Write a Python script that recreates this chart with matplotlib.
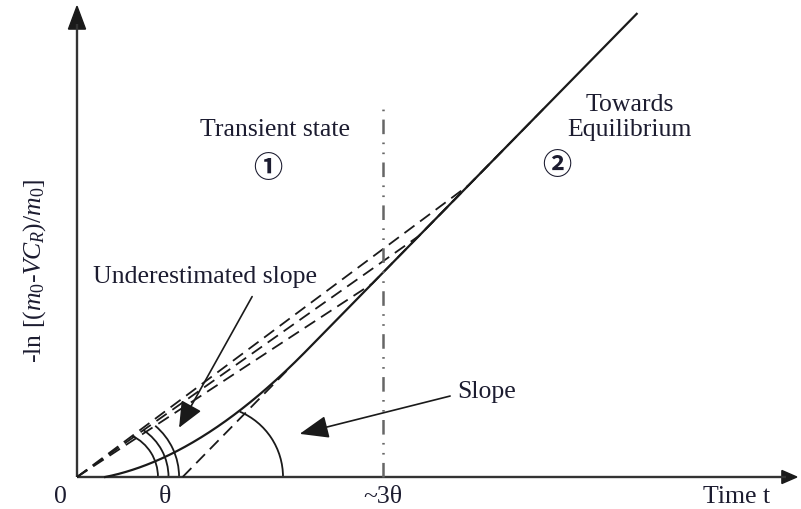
import numpy as np
import matplotlib
matplotlib.use("Agg")
import matplotlib.pyplot as plt
from matplotlib.patches import Arc, Polygon

# ---------------- data (time measured in units of theta) ----------------
theta = 1.0
three_theta = 3.48              # position of the "~3θ" boundary
x_axis_len = 8.18
y_axis_len = 5.35
asym_slope = 1.02               # slope of the equilibrium asymptote
asym_x0 = 1.20                  # x-intercept of the asymptote
curve_start = 0.32              # where the measured curve leaves the t-axis
curve_init_slope = 0.20
curve_join = 2.61               # where the curve merges with the asymptote
line_end = 6.36
under_slopes = [0.745, 0.705, 0.655]      # underestimated slopes (through origin)
under_tail_end = [5.30, 4.90, 4.40]
small_arc_center = 0.40
small_arc_radii = [0.52, 0.64, 0.76]
slope_arc_center = 1.534
slope_arc_radius = 0.807
tick_pos = [-0.19, theta, three_theta]
tick_labels = ["0", "θ", "~3θ"]

# ---------------- figure ----------------
PX = 88.0   # pixels per unit
W, H = 801, 510
ox, oy = 77, 478
fig = plt.figure(figsize=(W / 100, H / 100), dpi=100)
ax = fig.add_axes([0, 0, 1, 1])
ax.set_xlim(-ox / PX, (W - ox) / PX)
ax.set_ylim(-(H - oy) / PX, oy / PX)
ax.axis("off")
plt.rcParams["lines.scale_dashes"] = False
plt.rcParams["mathtext.fontset"] = "custom"
plt.rcParams["mathtext.rm"] = "Liberation Serif"
plt.rcParams["mathtext.it"] = "Liberation Serif:italic"

ink = "#1a1a1a"
txt = "#1c1c30"
serif = ["Liberation Serif", "Noto Sans CJK JP", "DejaVu Sans"]
fs = 18.5
dash = (0, (9.0, 5.0))

# axes with arrows
ax.plot([0, 0], [0, y_axis_len - 0.2], color="#333333", lw=1.7, solid_capstyle="butt")
ax.plot([0, x_axis_len - 0.12], [0, 0], color="#333333", lw=1.7, solid_capstyle="butt")
ax.add_patch(Polygon([[0, y_axis_len], [-0.097, y_axis_len - 0.26], [0.097, y_axis_len - 0.26]],
                     closed=True, color=ink))
ax.add_patch(Polygon([[x_axis_len, 0], [x_axis_len - 0.17, 0.074], [x_axis_len - 0.17, -0.074]],
                     closed=True, color=ink))

def asym(x):
    return asym_slope * (np.asarray(x) - asym_x0)

# measured curve: quadratic Bezier into the asymptote, then straight
p0 = np.array([curve_start, 0.0])
xc = (asym_slope * asym_x0 - curve_init_slope * curve_start) / (asym_slope - curve_init_slope)
p1 = np.array([xc, curve_init_slope * (xc - curve_start)])
p2 = np.array([curve_join, float(asym(curve_join))])
t = np.linspace(0, 1, 200)[:, None]
bez = (1 - t) ** 2 * p0 + 2 * t * (1 - t) * p1 + t ** 2 * p2
cx = np.concatenate([bez[:, 0], [line_end]])
cy = np.concatenate([bez[:, 1], [float(asym(line_end))]])
ax.plot(cx, cy, color=ink, lw=1.6)

# dashed asymptote extension down to the t axis
ax.plot([asym_x0, curve_join - 0.2], [0, float(asym(curve_join - 0.2))],
        color=ink, lw=1.3, ls=dash)

# underestimated slopes (dashed, from origin)
for s, xe in zip(under_slopes, under_tail_end):
    xm = asym_slope * asym_x0 / (asym_slope - s)
    ax.plot([0, xm, xe], [0, s * xm, float(asym(xe))], color=ink, lw=1.3, ls=dash)

# ~3θ dash-dot-dot boundary
ax.plot([three_theta, three_theta], [0, 4.26], color="#666666", lw=1.8,
        ls=(0, (10.5, 6.0, 1.2, 6.0, 1.2, 6.0)))

# small angle arcs for underestimated slopes
c = small_arc_center
for r, s in zip(small_arc_radii, under_slopes):
    a = 1 + s * s
    xi = (c + np.sqrt(c * c - a * (c * c - r * r))) / a
    ang = np.degrees(np.arctan2(s * xi, xi - c))
    ax.add_patch(Arc((c, 0), 2 * r, 2 * r, theta1=0, theta2=ang, color=ink, lw=1.3))

# slope arc
ax.add_patch(Arc((slope_arc_center, 0), 2 * slope_arc_radius, 2 * slope_arc_radius,
                 theta1=0, theta2=67, color=ink, lw=1.3))

# annotations
ax.annotate("", xy=(1.16, 0.56), xytext=(1.99, 2.05),
            arrowprops=dict(arrowstyle="-|>,head_length=16,head_width=7", mutation_scale=1,
                            lw=1.2, color=ink, shrinkA=0, shrinkB=0))
ax.annotate("", xy=(2.53, 0.49), xytext=(4.24, 0.92),
            arrowprops=dict(arrowstyle="-|>,head_length=18,head_width=7", mutation_scale=1,
                            lw=1.2, color=ink, shrinkA=0, shrinkB=0))

ax.text(1.45, 2.284, "Underestimated slope", ha="center", va="center", fontsize=fs, family=serif, color=txt)
ax.text(4.66, 0.977, "Slope", ha="center", va="center", fontsize=fs, family=serif, color=txt)
ax.text(2.25, 3.955, "Transient state", ha="center", va="center", fontsize=fs, family=serif, color=txt)
ax.text(2.17, 3.52, "①", ha="center", va="center", fontsize=21, fontweight="bold",
        family=["Noto Sans CJK JP", "DejaVu Sans"], color=txt)
ax.text(5.45, 3.56, "②", ha="center", va="center", fontsize=21, fontweight="bold",
        family=["Noto Sans CJK JP", "DejaVu Sans"], color=txt)
ax.text(6.28, 4.24, "Towards", ha="center", va="center", fontsize=fs, family=serif, color=txt)
ax.text(6.28, 3.955, "Equilibrium", ha="center", va="center", fontsize=fs, family=serif, color=txt)

for p, lab in zip(tick_pos, tick_labels):
    ax.text(p, -0.216, lab, ha="center", va="center", fontsize=fs, family=serif, color=txt)
ax.text(7.5, -0.216, "Time t", ha="center", va="center", fontsize=fs, family=serif, color=txt)

ax.text(-0.477, 2.36, r"-ln [($m_0$-$V_{\!}C_R$)/$m_0$]", rotation=90, ha="center", va="center",
        fontsize=fs, family=serif, color=txt)

fig.savefig("out.png", dpi=100)
